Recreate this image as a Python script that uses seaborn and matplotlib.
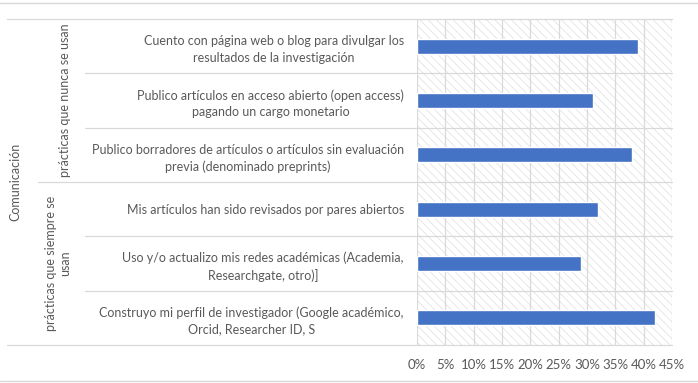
import matplotlib
matplotlib.use("Agg")
import matplotlib.pyplot as plt
import seaborn as sns
import pandas as pd
from matplotlib.patches import Rectangle
from matplotlib.ticker import FuncFormatter, MultipleLocator

# datos
practicas = [
    "Cuento con página web o blog para divulgar los\nresultados de la investigación",
    "Publico artículos en acceso abierto (open access)\npagando un cargo monetario",
    "Publico borradores de artículos o artículos sin evaluación\nprevia (denominado preprints)",
    "Mis artículos han sido revisados por pares abiertos",
    "Uso y/o actualizo mis redes académicas (Academia,\nResearchgate, otro)]",
    "Construyo mi perfil de investigador (Google académico,\nOrcid, Researcher ID, S",
]
porcentajes = [0.39, 0.31, 0.38, 0.32, 0.29, 0.42]
grupos = ["prácticas que nunca se usan", "prácticas que siempre se\nusan"]
categoria = "Comunicación"

df = pd.DataFrame({"Practica": practicas, "Porcentaje": porcentajes})

sns.set_style("white")
plt.rcParams["font.family"] = ["Lato", "DejaVu Sans"]
plt.rcParams["hatch.linewidth"] = 0.6
gris_txt = "#595959"
gris_lin = "#d9d9d9"
fs = 9

fig = plt.figure(figsize=(6.98, 3.83), dpi=100)
ax = fig.add_axes([417 / 698, 1 - 345 / 383, 255 / 698, 326 / 383])

# fondo con trama diagonal
ax.add_patch(Rectangle((0, 0), 1, 1, transform=ax.transAxes, facecolor="white",
                       edgecolor="#e3e3e3", hatch="\\\\\\\\", lw=0, zorder=0))

sns.barplot(data=df, y="Practica", x="Porcentaje", orient="h", color="#4472C4",
            width=0.28, saturation=1, ax=ax, zorder=3)

ax.set_xlim(0, 0.45)
ax.set_ylim(5.5, -0.5)
ax.xaxis.set_major_locator(MultipleLocator(0.05))
ax.xaxis.set_major_formatter(FuncFormatter(lambda v, p: f"{v * 100:.0f}%"))
ax.grid(axis="x", color=gris_lin, lw=0.9, zorder=1)
ax.set_axisbelow(True)
for s in ax.spines.values():
    s.set_visible(False)
ax.set_xlabel("")
ax.set_ylabel("")
ax.tick_params(axis="both", length=0, colors=gris_txt, labelsize=fs)
ax.tick_params(axis="x", labelsize=9.5, pad=10)
ax.tick_params(axis="y", pad=9.5)
for t in ax.get_yticklabels():
    t.set_multialignment("center")
    t.set_linespacing(1.45)
    t.set_color(gris_txt)

# lineas de separacion tipo tabla
tr = ax.get_yaxis_transform()
separ = {-0.5: -1.608, 0.5: -1.302, 1.5: -1.302, 2.5: -1.486,
         3.5: -1.302, 4.5: -1.302, 5.5: -1.608}
for yv, x0 in separ.items():
    ax.plot([x0, 1], [yv, yv], transform=tr, color=gris_lin, lw=0.9,
            clip_on=False, zorder=1)

# etiquetas de grupo
ax.text(65 / 255 - 417 / 255, 1.0, grupos[0], transform=tr, rotation=90,
        ha="center", va="center", fontsize=fs, color=gris_txt)
ax.text(58 / 255 - 417 / 255, 4.0, grupos[1], transform=tr, rotation=90,
        ha="center", va="center", fontsize=fs, color=gris_txt,
        multialignment="center", linespacing=1.3)
ax.text(15 / 255 - 417 / 255, 2.5, categoria, transform=tr, rotation=90,
        ha="center", va="center", fontsize=fs, color=gris_txt)

# borde del grafico
fig.add_artist(plt.Line2D([0, 1], [1 - 3 / 383] * 2, color=gris_lin, lw=1))
fig.add_artist(plt.Line2D([0, 1], [1 - 381 / 383] * 2, color=gris_lin, lw=1))

fig.savefig("out.png", dpi=100)
